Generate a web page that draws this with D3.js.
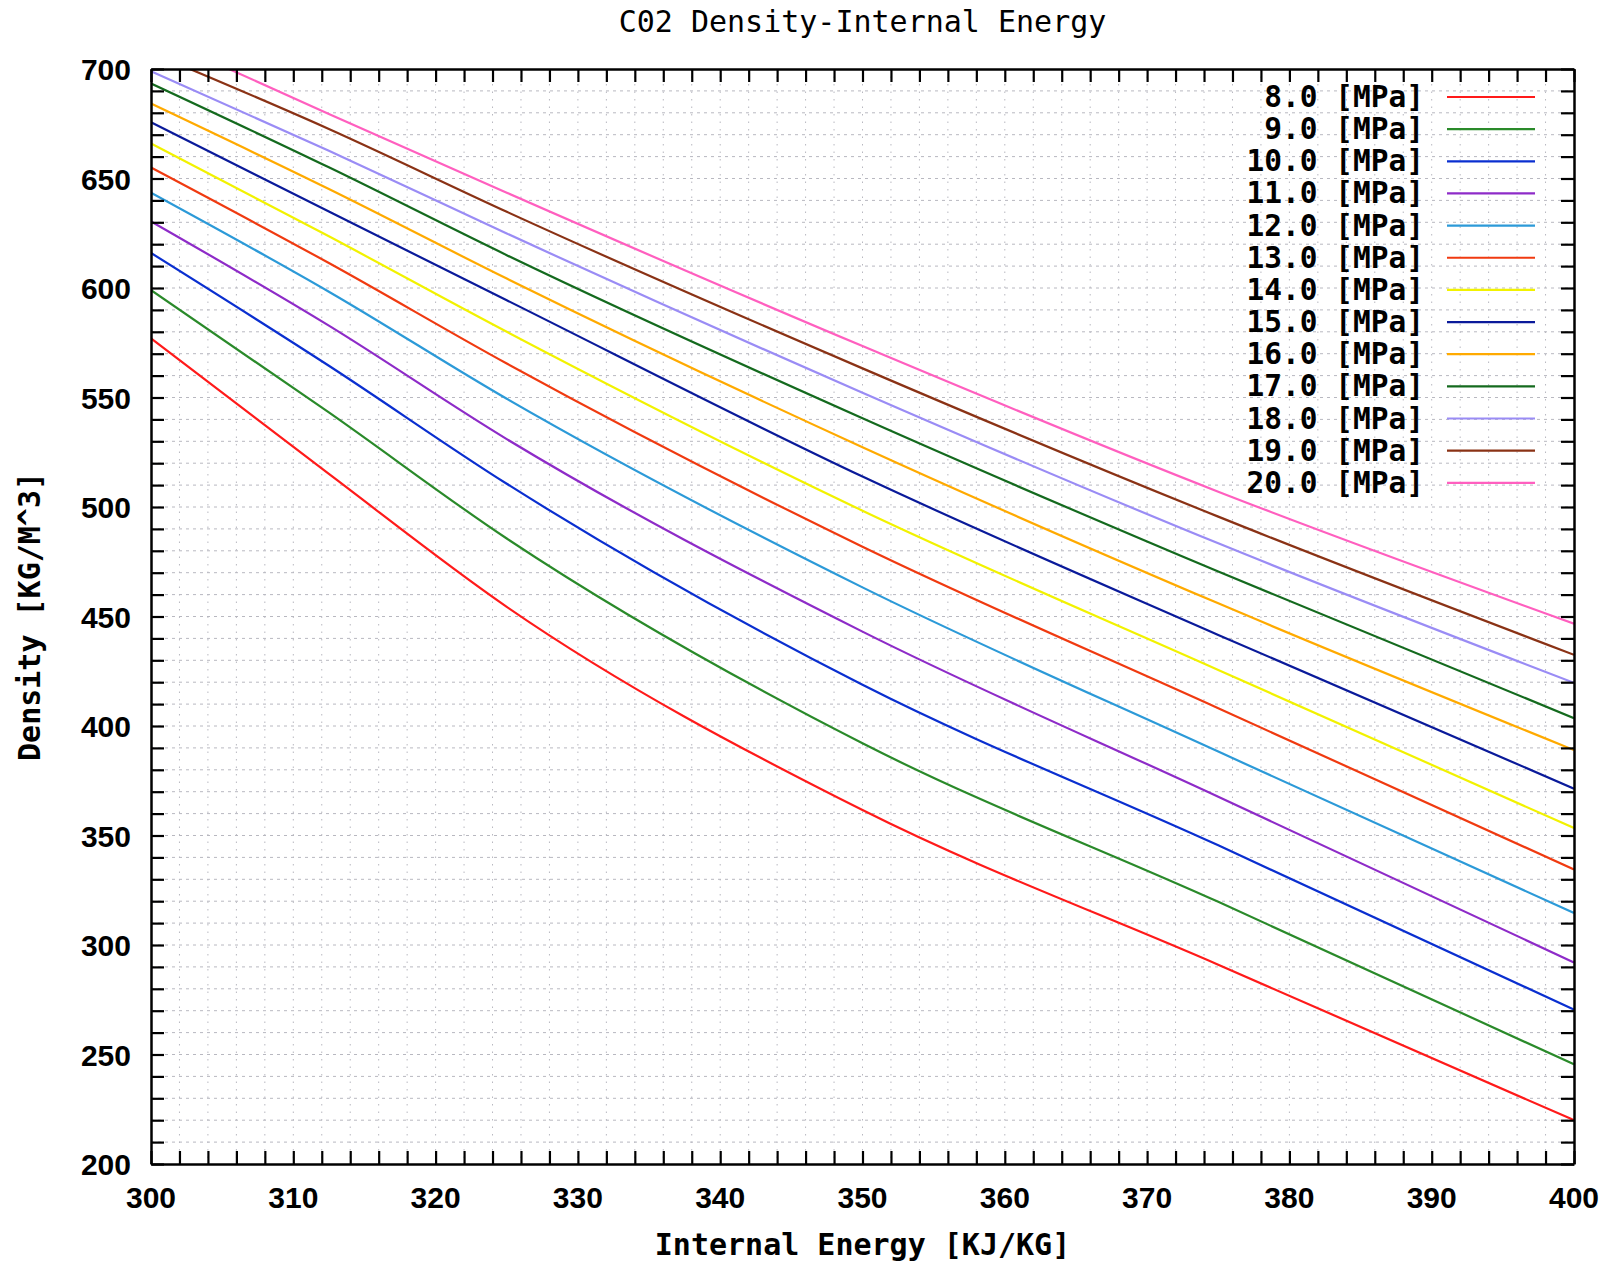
<!DOCTYPE html>
<html>
<head>
<meta charset="utf-8">
<script src="https://cdn.jsdelivr.net/npm/d3@7"></script>
<style>
  html, body { margin: 0; padding: 0; background: #ffffff; }
  svg { display: block; }
</style>
</head>
<body>
<svg id="chart" width="1623" height="1264"></svg>
<script>
// ---- data ----
const chartTitle = "C02 Density-Internal Energy";
const xTitle = "Internal Energy [KJ/KG]";
const yTitle = "Density [KG/M^3]";
const xTickLabels = [300, 310, 320, 330, 340, 350, 360, 370, 380, 390, 400];
const yTickLabels = [200, 250, 300, 350, 400, 450, 500, 550, 600, 650, 700];
const energy = [300, 312.5, 325, 350, 375, 400];
const pressures = ["8.0", "9.0", "10.0", "11.0", "12.0", "13.0", "14.0", "15.0", "16.0", "17.0", "18.0", "19.0", "20.0"];
const rho8  = [577, 515.1, 454.4, 361.6, 291.0, 220.0];
const rho9  = [599, 543.2, 485.6, 392.1, 319.7, 245.5];
const rho10 = [616, 564.5, 510.6, 418.8, 345.5, 270.5];
const rho11 = [630.4, 582.8, 531.0, 443.1, 367.7, 292.0];
const rho12 = [643.5, 598.3, 549.4, 463.3, 388.3, 314.6];
const rho13 = [655.0, 611.4, 565.5, 481.9, 408.1, 334.5];
const rho14 = [666.0, 623.6, 580.0, 498.3, 425.6, 353.4];
const rho15 = [675.7, 634.9, 594.4, 513.9, 441.6, 371.4];
const rho16 = [684.2, 645.2, 604.3, 527.3, 456.0, 389.0];
const rho17 = [693.4, 655.1, 615.0, 540.5, 470.5, 403.6];
const rho18 = [699.0, 662.7, 624.9, 552.2, 483.4, 419.7];
const rho19 = [707.5, 672.6, 634.8, 563.3, 495.6, 432.5];
const rho20 = [716.0, 679.5, 643.5, 573.5, 507.0, 446.7];
const seriesValues = [rho8, rho9, rho10, rho11, rho12, rho13, rho14, rho15, rho16, rho17, rho18, rho19, rho20];
const seriesColors = ["#ff1a1a", "#2a8a2a", "#0a2fd0", "#8e2bc8", "#2c9ad8", "#f03a10", "#f2f200", "#0a1a9a", "#ffaa00", "#146a1e", "#9a8cf5", "#8a3215", "#ff5fbf"];

// ---- layout ----
const svg = d3.select("#chart");
const L = 151, R = 1574, T = 69, B = 1164;
const x = d3.scaleLinear().domain([300, 400]).range([L, R]);
const y = d3.scaleLinear().domain([200, 700]).range([B, T]);

svg.append("rect").attr("width", 1623).attr("height", 1264).attr("fill", "#ffffff");

svg.append("defs").append("clipPath").attr("id", "plotclip")
  .append("rect").attr("x", L).attr("y", T).attr("width", R - L).attr("height", B - T);

// grid
const xMinor = d3.range(302, 400, 2);
const yMinor = d3.range(210, 700, 10);
const grid = svg.append("g");
grid.selectAll("line.gx").data(xMinor).join("line")
  .attr("x1", d => x(d)).attr("x2", d => x(d)).attr("y1", T).attr("y2", B)
  .attr("stroke", "#b8b8c0").attr("stroke-width", 1).attr("stroke-dasharray", "1.5,6");
grid.selectAll("line.gy").data(yMinor).join("line")
  .attr("x1", L).attr("x2", R).attr("y1", d => y(d)).attr("y2", d => y(d))
  .attr("stroke", "#b8b8c0").attr("stroke-width", 1).attr("stroke-dasharray", "3,4");

// curves
const line = d3.line().x(d => x(d[0])).y(d => y(d[1])).curve(d3.curveMonotoneX);
const curves = svg.append("g").attr("clip-path", "url(#plotclip)");
seriesValues.forEach((vals, i) => {
  curves.append("path")
    .datum(energy.map((e, j) => [e, vals[j]]))
    .attr("d", line)
    .attr("fill", "none")
    .attr("stroke", seriesColors[i])
    .attr("stroke-width", 2.2);
});

// axes with inward ticks
const tickLen = 13;
const axisB = d3.axisBottom(x).tickValues(d3.range(300, 401, 2)).tickSizeInner(-tickLen).tickSizeOuter(0).tickFormat("");
const axisT = d3.axisTop(x).tickValues(d3.range(300, 401, 2)).tickSizeInner(-tickLen).tickSizeOuter(0).tickFormat("");
const axisLft = d3.axisLeft(y).tickValues(d3.range(200, 701, 10)).tickSizeInner(-tickLen).tickSizeOuter(0).tickFormat("");
const axisRgt = d3.axisRight(y).tickValues(d3.range(200, 701, 10)).tickSizeInner(-tickLen).tickSizeOuter(0).tickFormat("");
function styleAxis(g) {
  g.selectAll("path").attr("stroke", "#000").attr("stroke-width", 2.5);
  g.selectAll("line").attr("stroke", "#000").attr("stroke-width", 2.2);
}
svg.append("g").attr("transform", `translate(0,${B})`).call(axisB).call(styleAxis);
svg.append("g").attr("transform", `translate(0,${T})`).call(axisT).call(styleAxis);
svg.append("g").attr("transform", `translate(${L},0)`).call(axisLft).call(styleAxis);
svg.append("g").attr("transform", `translate(${R},0)`).call(axisRgt).call(styleAxis);

// tick labels
const tickFont = "'Liberation Sans', Arial, sans-serif";
svg.append("g").selectAll("text").data(xTickLabels).join("text")
  .attr("x", d => x(d)).attr("y", 1208)
  .attr("text-anchor", "middle")
  .attr("font-family", tickFont).attr("font-weight", "bold").attr("font-size", 30)
  .attr("fill", "#000").text(d => d);
svg.append("g").selectAll("text").data(yTickLabels).join("text")
  .attr("x", 131).attr("y", d => y(d) + 11)
  .attr("text-anchor", "end")
  .attr("font-family", tickFont).attr("font-weight", "bold").attr("font-size", 30)
  .attr("fill", "#000").text(d => d);

// titles
const mono = "'DejaVu Sans Mono', 'Liberation Mono', monospace";
svg.append("text").attr("x", (L + R) / 2).attr("y", 32)
  .attr("text-anchor", "middle").attr("font-family", mono).attr("font-size", 30)
  .attr("fill", "#000").text(chartTitle);
svg.append("text").attr("x", (L + R) / 2).attr("y", 1255)
  .attr("text-anchor", "middle").attr("font-family", mono).attr("font-weight", "bold").attr("font-size", 30)
  .attr("fill", "#000").text(xTitle);
svg.append("text").attr("transform", `translate(40,${(T + B) / 2}) rotate(-90)`)
  .attr("text-anchor", "middle").attr("font-family", mono).attr("font-weight", "bold").attr("font-size", 30)
  .attr("fill", "#000").text(yTitle);

// legend
const legend = svg.append("g");
pressures.forEach((p, i) => {
  const cy = 97 + i * 32.15;
  legend.append("text").attr("x", 1424).attr("y", cy + 10)
    .attr("text-anchor", "end").attr("font-family", mono).attr("font-weight", "bold").attr("font-size", 29.5)
    .attr("fill", "#000").attr("xml:space", "preserve").text(p + " [MPa]");
  legend.append("line").attr("x1", 1447).attr("x2", 1535).attr("y1", cy).attr("y2", cy)
    .attr("stroke", seriesColors[i]).attr("stroke-width", 2.2);
});
</script>
</body>
</html>
